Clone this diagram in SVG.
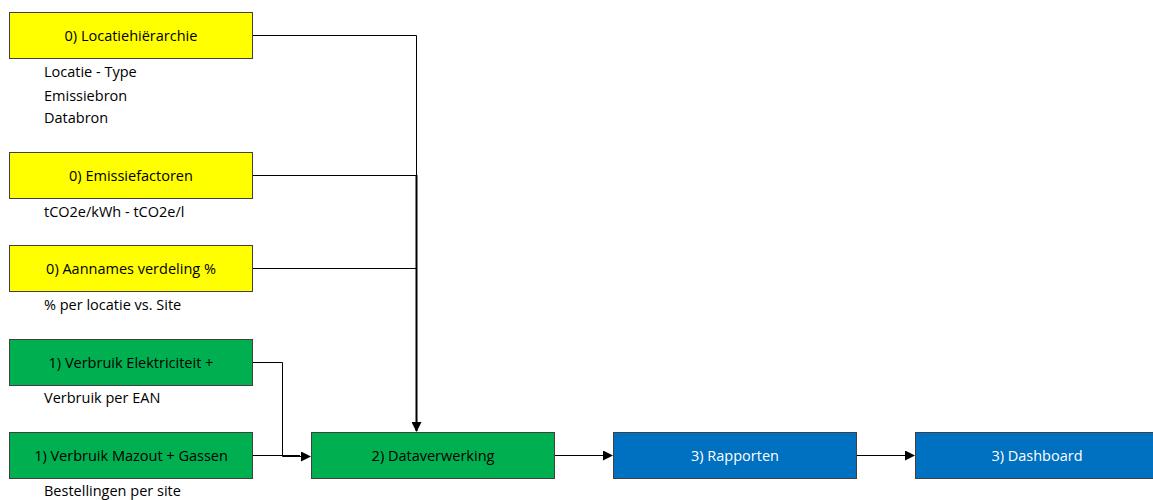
<svg xmlns="http://www.w3.org/2000/svg" width="1153" height="500" viewBox="0 0 1153 500">
<style>
.box{stroke:#404040;stroke-width:1}
.y{fill:#FFFF00}
.g{fill:#00B050}
.b{fill:#0070C0}
.lbl{font-family:"Open Sans","Liberation Sans",Arial,sans-serif;font-size:14.5px;fill:#000;text-anchor:middle;dominant-baseline:central}
.w{fill:#fff}
.note{font-family:"Open Sans","Liberation Sans",Arial,sans-serif;font-size:14.5px;fill:#000}
.ln{fill:none;stroke:#000;stroke-width:1}
.lnb{fill:none;stroke:#000;stroke-width:2}
</style>
<defs>
<marker id="arr" markerWidth="10" markerHeight="10" refX="9" refY="5" orient="auto" markerUnits="userSpaceOnUse">
<path d="M0,0 L10,5 L0,10 z" fill="#000"/>
</marker>
</defs>
<rect width="1153" height="500" fill="#fff"/>
<g id="connectors">
<path class="ln" d="M252,35.5 H416.5 V175"/>
<path class="ln" d="M252,175.5 H416.5"/>
<path class="ln" d="M252,268.5 H416.5"/>
<path class="lnb" d="M416.5,175 V431" marker-end="url(#arr)"/>
<path class="ln" d="M252,362.5 H282.5 V456.5 H310" marker-end="url(#arr)"/>
<path class="ln" d="M252,455.5 H300"/>
<path class="ln" d="M554,455.5 H612" marker-end="url(#arr)"/>
<path class="ln" d="M856,455.5 H914" marker-end="url(#arr)"/>
</g>
<g id="locatiehierarchie">
<rect class="box y" x="9.5" y="12.5" width="243" height="46"/>
<text class="lbl" x="131" y="35.5">0) Locatiehiërarchie</text>
<text class="note" x="44" y="77">Locatie - Type</text>
<text class="note" x="44" y="101">Emissiebron</text>
<text class="note" x="44" y="123">Databron</text>
</g>
<g id="emissiefactoren">
<rect class="box y" x="9.5" y="152.5" width="243" height="46"/>
<text class="lbl" x="131" y="175.5">0) Emissiefactoren</text>
<text class="note" x="44" y="217">tCO2e/kWh - tCO2e/l</text>
</g>
<g id="aannames">
<rect class="box y" x="9.5" y="245.5" width="243" height="46"/>
<text class="lbl" x="131" y="268.5">0) Aannames  verdeling %</text>
<text class="note" x="44" y="310">% per locatie vs. Site</text>
</g>
<g id="elektriciteit">
<rect class="box g" x="9.5" y="339.5" width="243" height="46"/>
<text class="lbl" x="131" y="362.5">1) Verbruik  Elektriciteit +</text>
<text class="note" x="44" y="403">Verbruik per EAN</text>
</g>
<g id="mazout">
<rect class="box g" x="9.5" y="432.5" width="243" height="46"/>
<text class="lbl" x="131" y="455.5">1) Verbruik  Mazout + Gassen</text>
<text class="note" x="44" y="496">Bestellingen per site</text>
</g>
<g id="dataverwerking">
<rect class="box g" x="311.5" y="432.5" width="243" height="46"/>
<text class="lbl" x="433" y="455.5">2) Dataverwerking</text>
</g>
<g id="rapporten">
<rect class="box b" x="613.5" y="432.5" width="243" height="46"/>
<text class="lbl w" x="735" y="455.5">3) Rapporten</text>
</g>
<g id="dashboard">
<rect class="box b" x="915.5" y="432.5" width="243" height="46"/>
<text class="lbl w" x="1037" y="455.5">3) Dashboard</text>
</g>
</svg>
